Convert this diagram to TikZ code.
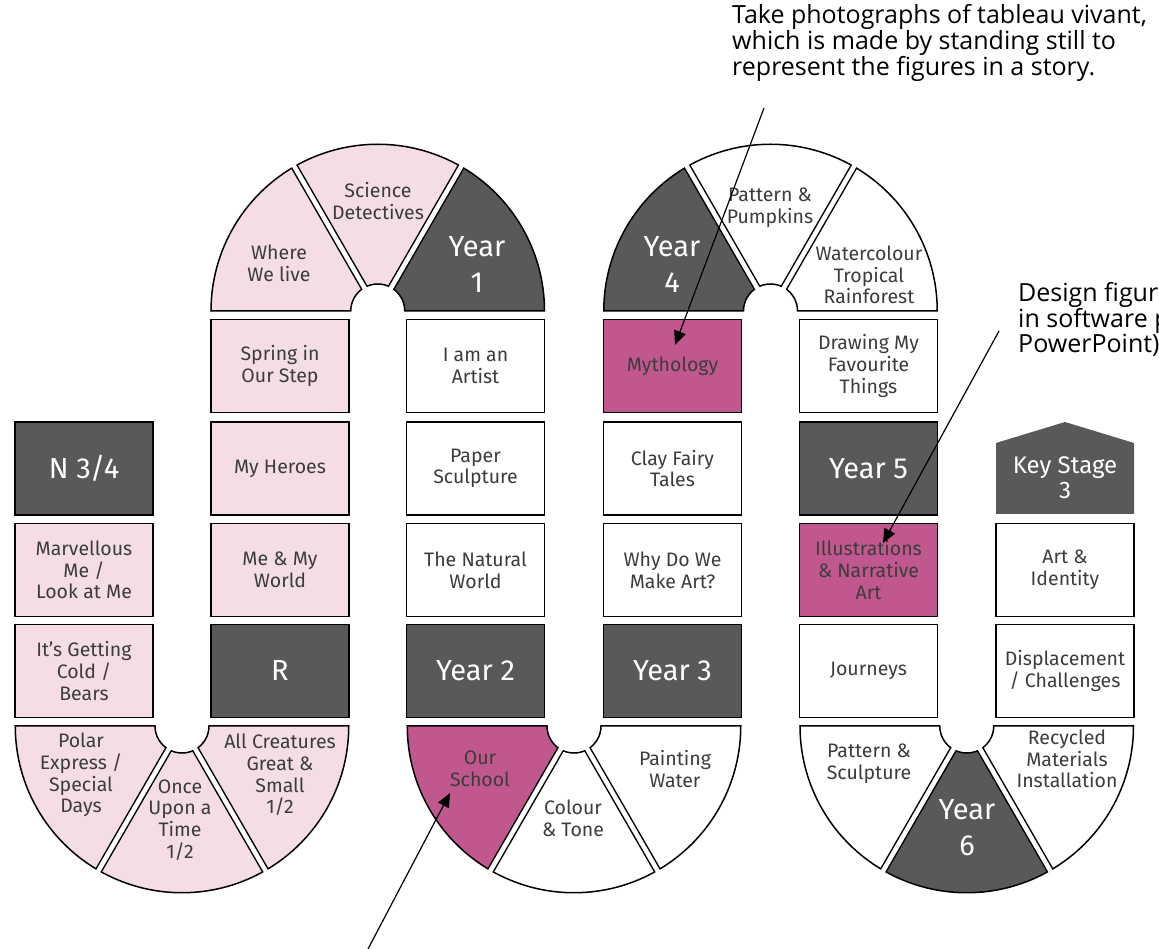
\documentclass[tikz,border=0pt]{standalone}
\usepackage{fontspec}
\setmainfont{Fira Sans}
\newfontfamily\annfont{Open Sans}
\usetikzlibrary{calc,arrows.meta}
\definecolor{darkbox}{HTML}{595959}
\definecolor{pinkbox}{HTML}{F5DDE7}
\definecolor{magbox}{HTML}{C0588E}
\definecolor{txt}{HTML}{3C3C3C}
\def\rin{27}
\def\rout{166.75}
\newcommand{\wseg}[4]{%
  \filldraw[wedgeline, fill=#4] ($(#1)+(#2:\rin)$) -- ($(#1)+(#2:\rout)$)
    arc[start angle=#2, end angle=#3, radius=\rout] -- ($(#1)+(#3:\rin)$)
    arc[start angle=#3, end angle=#2, radius=\rin] -- cycle;}
\newcommand{\wgap}[2]{%
  \draw[black, line width=7.5pt] ($(#1)+(#2:\rin)$) -- ($(#1)+(#2:\rout)$);
  \draw[white, line width=4.5pt] ($(#1)+(#2:\rin-4)$) -- ($(#1)+(#2:\rout+4)$);}
\tikzset{
  tile/.style={draw=black, line width=1.5pt, minimum width=138pt, minimum height=93pt,
    inner sep=0pt, align=center, font=\fontsize{19.5}{21.7}\selectfont, text=txt},
  pinkt/.style={tile, fill=pinkbox},
  whitet/.style={tile, fill=white},
  magt/.style={tile, fill=magbox},
  darkt/.style={tile, fill=darkbox, text=white, font=\fontsize{29}{36}\selectfont},
  lbl/.style={align=center, font=\fontsize{19.5}{21.7}\selectfont, text=txt, inner sep=0pt},
  biglbl/.style={align=center, font=\fontsize{29}{36}\selectfont, text=white, inner sep=0pt},
  kslbl/.style={align=center, font=\fontsize{24}{25}\selectfont, text=white, inner sep=0pt},
  wedgeline/.style={draw=black, line width=1.5pt},
  ann/.style={align=left, font=\annfont\fontsize{25}{24}\selectfont, inner sep=0pt, anchor=base west, text=black},
  arr/.style={line width=1.2pt, -{Triangle[length=14pt,width=12pt]}},
}
\begin{document}
\begin{tikzpicture}[x=1pt,y=1pt]
\useasboundingbox (0,0) rectangle (1159,948);
\clip (0,0) rectangle (1159,948);
\fill[white] (0,0) rectangle (1159,948);

% disc centres
\coordinate (TL) at (377.75,637);
\coordinate (TR) at (770.5,637);
\coordinate (BL) at (182,222);
\coordinate (BM) at (574,222);
\coordinate (BR) at (966.75,222);

% top-left disc
\wseg{TL}{120}{180}{pinkbox}
\wseg{TL}{60}{120}{pinkbox}
\wseg{TL}{0}{60}{darkbox}
\wgap{TL}{60}\wgap{TL}{120}
\node[lbl] (wherelive) at (279,685) {Where\\We live};
\node[lbl] (science) at (378,747) {Science\\Detectives};
\node[biglbl] (year1) at (477,683) {Year\\1};

% top-right disc
\wseg{TR}{120}{180}{darkbox}
\wseg{TR}{60}{120}{white}
\wseg{TR}{0}{60}{white}
\wgap{TR}{60}\wgap{TR}{120}
\node[biglbl] (year4) at (672,683) {Year\\4};
\node[lbl] (pumpkins) at (770,740) {Pattern \&\\Pumpkins};
\node[lbl] (water) at (869,673) {Watercolour\\Tropical\\Rainforest};

% bottom-left disc
\wseg{BL}{180}{240}{pinkbox}
\wseg{BL}{240}{300}{pinkbox}
\wseg{BL}{300}{360}{pinkbox}
\wgap{BL}{240}\wgap{BL}{300}
\node[lbl] (polar) at (81,173) {Polar\\Express /\\Special\\Days};
\node[lbl] (once) at (180,128) {Once\\Upon a\\Time\\1/2};
\node[lbl] (creatures) at (280,173) {All Creatures\\Great \&\\Small\\1/2};

% bottom-middle disc
\wseg{BM}{180}{240}{magbox}
\wseg{BM}{240}{300}{white}
\wseg{BM}{300}{360}{white}
\wgap{BM}{240}\wgap{BM}{300}
\node[lbl] (school) at (480,179) {Our\\School};
\node[lbl] (colour) at (573,130) {Colour\\\& Tone};
\node[lbl] (painting) at (675,179) {Painting\\Water};

% bottom-right disc
\wseg{BR}{180}{240}{white}
\wseg{BR}{240}{300}{darkbox}
\wseg{BR}{300}{360}{white}
\wgap{BR}{240}\wgap{BR}{300}
\node[lbl] (psculpt) at (869,184) {Pattern \&\\Sculpture};
\node[biglbl] (year6) at (967,120) {Year\\6};
\node[lbl] (recycled) at (1067,189) {Recycled\\Materials\\Installation};

% column 1
\node[darkt] (n34) at (84,479.5) {N 3/4};
\node[pinkt] (marv) at (84,378) {Marvellous\\Me /\\Look at Me};
\node[pinkt] (cold) at (84,277) {It's Getting\\Cold /\\Bears};
% column 2
\node[pinkt] (spring) at (280,582) {Spring in\\Our Step};
\node[pinkt] (heroes) at (280,479.5) {My Heroes};
\node[pinkt] (meworld) at (280,378) {Me \& My\\World};
\node[darkt] (rec) at (280,277) {R};
% column 3
\node[whitet] (artist) at (475.5,582) {I am an\\Artist};
\node[whitet] (paper) at (475.5,479.5) {Paper\\Sculpture};
\node[whitet] (natural) at (475.5,378) {The Natural\\World};
\node[darkt] (year2) at (475.5,277) {Year 2};
% column 4
\node[magt] (myth) at (672.5,582) {Mythology};
\node[whitet] (clay) at (672.5,479.5) {Clay Fairy\\Tales};
\node[whitet] (why) at (672.5,378) {Why Do We\\Make Art?};
\node[darkt] (year3) at (672.5,277) {Year 3};
% column 5
\node[whitet] (drawing) at (868.5,582) {Drawing My\\Favourite\\Things};
\node[darkt] (year5) at (868.5,479.5) {Year 5};
\node[magt] (illus) at (868.5,378) {Illustrations\\\& Narrative\\Art};
\node[whitet] (journeys) at (868.5,277) {Journeys};
% column 6
\fill[darkbox] (996,434) -- (996,505) -- (1065,526) -- (1134,505) -- (1134,434) -- cycle;
\node[kslbl] (ks3) at (1065,470.5) {Key Stage\\3};
\node[whitet] (identity) at (1065,378) {Art \&\\Identity};
\node[whitet] (displace) at (1065,277) {Displacement\\/ Challenges};

% annotations (base anchor = baseline of last line)
\node[ann] (note1) at (732,872) {Take photographs of tableau vivant,\\which is made by standing still to\\represent the figures in a story.};
\node[ann] (note2) at (1018,595) {Design figures\\in software programs (e.g.\\PowerPoint)};
\coordinate (n1s) at (764,840);
\coordinate (n1e) at (675,603);
\coordinate (n2s) at (999,617);
\coordinate (n2e) at (883,405);
\coordinate (n3s) at (368,-1);
\coordinate (n3e) at (450,155);
\draw[arr] (n1s) -- (n1e);
\draw[arr] (n2s) -- (n2e);
\draw[arr] (n3s) -- (n3e);
\end{tikzpicture}
\end{document}
